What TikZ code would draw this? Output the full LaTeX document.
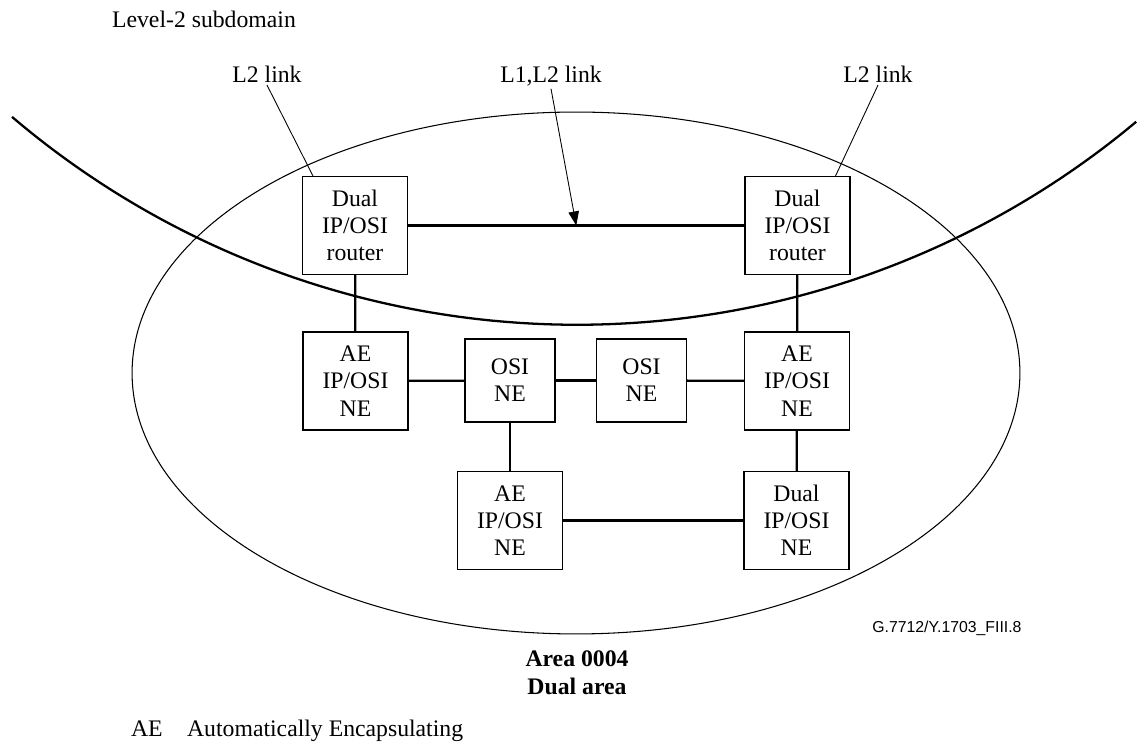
\documentclass[tikz,border=0pt]{standalone}
\usepackage{fontspec}
\setmainfont{Liberation Serif}
\newfontfamily\figsans{Liberation Sans}
\usetikzlibrary{arrows.meta,calc}
\begin{document}
\begin{tikzpicture}[x=0.02cm,y=-0.02cm,
  txt/.style={inner sep=1pt,font=\fontsize{13.5pt}{15.5pt}\selectfont},
  bigbox/.style={draw,line width=0.6pt,inner sep=0pt,align=center,
    minimum width=2.1cm,minimum height=1.96cm,
    font=\fontsize{13.5pt}{15.5pt}\selectfont},
  smallbox/.style={bigbox,minimum width=1.8cm,minimum height=1.66cm},
  link/.style={line width=1.3pt},
  leader/.style={line width=0.5pt}]
\useasboundingbox (0,0) rectangle (1137,742);

% area boundary and level-2 subdomain boundary
\draw[line width=0.6pt] (576,373) ellipse [x radius=8.88cm, y radius=5.22cm];
\draw[line width=1.3pt,domain=229.6:309.9,samples=80,smooth]
  plot ({577+871.8*cos(\x)},{-547-871.8*sin(\x)});

% network elements
\node[bigbox] (rL) at (355,225.5) {Dual\\IP/OSI\\router};
\node[bigbox] (rR) at (797.5,225.5) {Dual\\IP/OSI\\router};
\node[bigbox] (aeL) at (355.5,381) {AE\\IP/OSI\\NE};
\node[smallbox] (osiA) at (510,380.5) {OSI\\NE};
\node[smallbox] (osiB) at (641.5,380.5) {OSI\\NE};
\node[bigbox] (aeR) at (797,381) {AE\\IP/OSI\\NE};
\node[bigbox] (aeB) at (510,520.5) {AE\\IP/OSI\\NE};
\node[bigbox] (dualB) at (796.5,520.5) {Dual\\IP/OSI\\NE};

% links
\draw[link] (rL) -- (rR);
\draw[link] (rL) -- (aeL);
\draw[link] (rR) -- (aeR);
\draw[link] (aeL) -- (osiA);
\draw[link] (osiA) -- (osiB);
\draw[link] (osiB) -- (aeR);
\draw[link] (osiA) -- (aeB);
\draw[link] (aeR) -- (dualB);
\draw[link] (aeB) -- (dualB);
\coordinate (mid) at ($(rL.east)!0.5!(rR.west)$);

% labels
\node[txt,anchor=base west] (title) at (110,28) {Level-2 subdomain};
\node[txt,anchor=base] (l2a) at (267,83) {L2 link};
\node[txt,anchor=base] (l12) at (551,83) {L1,L2 link};
\node[txt,anchor=base] (l2b) at (878,83) {L2 link};
\coordinate (tL) at ($(rL.north west)+(11,0)$);
\coordinate (tR) at ($(rR.north east)+(-15,0)$);
\draw[leader] (l2a.south) -- (tL);
\draw[leader] (l2b.south) -- (tR);
\draw[leader,-{Triangle[length=8pt,width=6pt]}] (l12.south) -- (mid);

\node[inner sep=0pt,anchor=base west,font=\figsans\fontsize{9pt}{11pt}\selectfont] (figid) at (872,633) {G.7712/Y.1703\_FIII.8};
\node[txt,anchor=base,font=\fontsize{13.5pt}{15.5pt}\selectfont\bfseries] (area) at (577,667) {Area 0004};
\node[txt,anchor=base,font=\fontsize{13.5pt}{15.5pt}\selectfont\bfseries] (dual) at (577,695) {Dual area};
\node[txt,anchor=base west] (abbr) at (129,737) {AE};
\node[txt,anchor=base west] (abbrx) at (185,737) {Automatically Encapsulating};
\end{tikzpicture}
\end{document}
